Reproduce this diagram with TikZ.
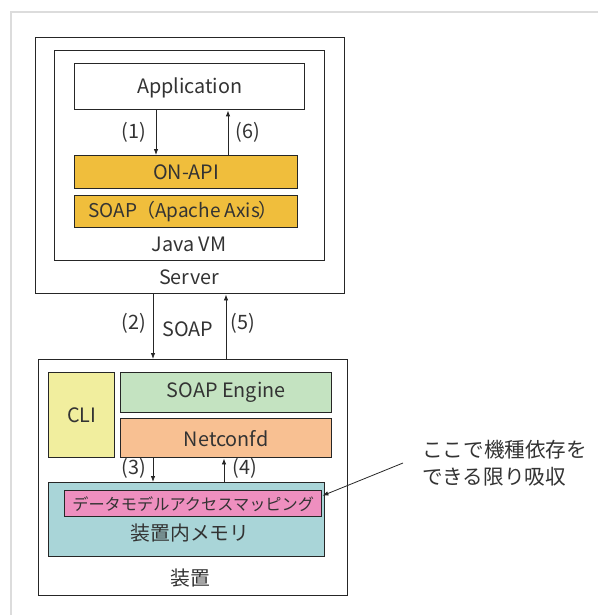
\documentclass[tikz,border=0pt]{standalone}
\usepackage{fontspec}
\setmainfont{Noto Sans CJK JP}
\usetikzlibrary{arrows.meta,calc}

\definecolor{gold}{HTML}{F0BE3C}
\definecolor{engine}{HTML}{C4E3C1}
\definecolor{netconf}{HTML}{F8C092}
\definecolor{cli}{HTML}{F1EE9E}
\definecolor{memory}{HTML}{A9D5D8}
\definecolor{mapping}{HTML}{EE8FBF}
\definecolor{ink}{HTML}{333333}
\definecolor{frame}{HTML}{DCDCDC}

\begin{document}
\begin{tikzpicture}[x=1pt,y=-1pt,
  every node/.style={text=ink, font=\fontsize{19.8}{23}\selectfont},
  box/.style={draw=black!85, line width=1.4pt, anchor=north west, inner sep=0pt},
  lbl/.style={inner sep=0pt},
  arr/.style={draw=black!85, line width=0.8pt, -{Latex[length=6pt,width=4.5pt]}}]
\useasboundingbox (0,0) rectangle (598,615);

% page frame
\draw[frame, line width=2pt] (598,12) -- (11,12) -- (11,615);

% server side
\node[box, minimum width=309, minimum height=256] (server) at (35,37) {};
\node[box, minimum width=270, minimum height=210] (jvm) at (54,50) {};
\node[box, minimum width=230, minimum height=46, fill=white] (app) at (74,63) {};
\node[lbl] at ($(app.center)+(0,1)$) {Application};
\node[box, minimum width=223, minimum height=33, fill=gold] (onapi) at (74,155) {};
\node[lbl] at (onapi.center) {ON-API};
\node[box, minimum width=223, minimum height=32, fill=gold] (axis) at (74,195) {};
\node[lbl, font=\fontsize{19}{22}\selectfont] at ($(axis.center)+(-3,0)$) {SOAP\hspace{-1pt}（Apache Axis\hspace{-1pt}）};
\node[lbl] (jvmlabel) at (189,244) {Java VM};
\node[lbl] (serverlabel) at (189,277) {Server};

% device side
\node[box, minimum width=309, minimum height=236] (dev) at (38,359) {};
\node[box, minimum width=66, minimum height=85, fill=cli] (cli) at (48,372) {};
\node[lbl] at (cli.center) {CLI};
\node[box, minimum width=211, minimum height=40, fill=engine] (engine) at (120,372) {};
\node[lbl] at (engine.center) {SOAP Engine};
\node[box, minimum width=211, minimum height=39, fill=netconf] (netconfd) at (120,418) {};
\node[lbl] at (netconfd.center) {Netconfd};
\node[box, minimum width=276, minimum height=74, fill=memory] (mem) at (48,482) {};
\node[box, minimum width=257, minimum height=26, fill=mapping] (dm) at (64,490) {};
\node[lbl, font=\fontsize{16.2}{19}\selectfont] at (dm.center) {データモデルアクセスマッピング};
\node[lbl] (memlabel) at (190,533) {装置内メモリ};
\node[lbl] (devlabel) at (190,578) {装置};

% message flow
\draw[arr] ($(app.south west)+(82,0)$) -- ($(onapi.north west)+(82,0)$);
\draw[arr] ($(onapi.north west)+(154,0)$) -- ($(app.south west)+(154,0)$);
\node[lbl] (l1) at (134,132) {(1)};
\node[lbl] (l6) at (248,132) {(6)};

\draw[arr] ($(server.south west)+(118,0)$) -- ($(dev.north west)+(115,0)$);
\draw[arr] ($(dev.north west)+(188,0)$) -- ($(server.south west)+(191,0)$);
\node[lbl] (l2) at (134,323) {(2)};
\node[lbl] (soap) at (188,329) {SOAP};
\node[lbl] (l5) at (243,323) {(5)};

\draw[arr] ($(netconfd.south west)+(33,0)$) -- ($(mem.north west)+(105,0)$);
\draw[arr] ($(mem.north west)+(176,0)$) -- ($(netconfd.south west)+(104,0)$);
\node[lbl] (l3) at (134,468) {(3)};
\node[lbl] (l4) at (245,468) {(4)};

% annotation
\node[lbl, anchor=west, align=left, font=\fontsize{20.6}{27}\selectfont] (note) at (422,463) {ここで機種依存を\\できる限り吸収};
\coordinate (notetail) at (403,463);
\draw[arr] (notetail) -- ($(dm.east)+(0,-8)$);
\end{tikzpicture}
\end{document}
